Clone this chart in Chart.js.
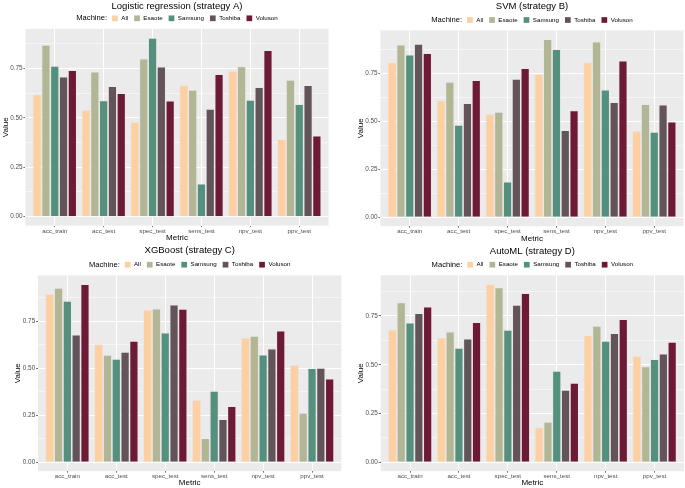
<!DOCTYPE html>
<html>
<head>
<meta charset="utf-8">
<script src="https://cdn.jsdelivr.net/npm/chart.js@4.4.1/dist/chart.umd.min.js"></script>
<style>
  html, body { margin: 0; padding: 0; background: #fff; }
  body { width: 685px; height: 488px; position: relative; overflow: hidden; }
  .panel { position: absolute; }
</style>
</head>
<body>
<div class="panel" style="left:0px;top:0px"><canvas id="chartA" width="342" height="244"></canvas></div>
<div class="panel" style="left:342px;top:0px"><canvas id="chartB" width="343" height="244"></canvas></div>
<div class="panel" style="left:0px;top:244px"><canvas id="chartC" width="342" height="244"></canvas></div>
<div class="panel" style="left:342px;top:244px"><canvas id="chartD" width="343" height="244"></canvas></div>
<script>
const metrics = ['acc_train', 'acc_test', 'spec_test', 'sens_test', 'npv_test', 'ppv_test'];
const machines = ['All', 'Esaote', 'Samsung', 'Toshiba', 'Voluson'];
const machineColors = ['#FCD0A1', '#B1B695', '#53917E', '#63535B', '#6D1A36'];
const legendTitle = 'Machine:';
const yMajor = [0, 0.25, 0.5, 0.75];

// values per machine, in the order of metrics
const logregAll     = [0.618, 0.539, 0.478, 0.664, 0.737, 0.391];
const logregEsaote  = [0.868, 0.733, 0.799, 0.640, 0.760, 0.691];
const logregSamsung = [0.762, 0.588, 0.904, 0.166, 0.590, 0.569];
const logregToshiba = [0.708, 0.659, 0.758, 0.544, 0.655, 0.664];
const logregVoluson = [0.740, 0.624, 0.586, 0.720, 0.841, 0.409];

const svmAll     = [0.806, 0.608, 0.538, 0.745, 0.807, 0.450];
const svmEsaote  = [0.899, 0.705, 0.549, 0.927, 0.915, 0.589];
const svmSamsung = [0.847, 0.481, 0.186, 0.875, 0.665, 0.444];
const svmToshiba = [0.903, 0.594, 0.720, 0.453, 0.599, 0.587];
const svmVoluson = [0.854, 0.714, 0.776, 0.557, 0.816, 0.498];

const xgbAll     = [0.895, 0.628, 0.810, 0.332, 0.663, 0.518];
const xgbEsaote  = [0.927, 0.571, 0.817, 0.128, 0.672, 0.262];
const xgbSamsung = [0.858, 0.550, 0.690, 0.379, 0.573, 0.500];
const xgbToshiba = [0.679, 0.587, 0.839, 0.229, 0.605, 0.502];
const xgbVoluson = [0.947, 0.645, 0.816, 0.298, 0.700, 0.445];

const automlAll     = [0.680, 0.639, 0.913, 0.178, 0.651, 0.545];
const automlEsaote  = [0.820, 0.670, 0.897, 0.207, 0.699, 0.492];
const automlSamsung = [0.716, 0.586, 0.679, 0.468, 0.622, 0.528];
const automlToshiba = [0.764, 0.634, 0.807, 0.371, 0.662, 0.557];
const automlVoluson = [0.798, 0.718, 0.867, 0.407, 0.733, 0.617];

// page layout of the four panels (canvas box, plot panel, text positions)
const panels = [
  { id: 'chartA', title: 'Logistic regression (strategy A)',
    series: [logregAll, logregEsaote, logregSamsung, logregToshiba, logregVoluson],
    box: {x: 0, y: 0, w: 342, h: 244}, area: {l: 25.4, t: 28.9, r: 328.6, b: 225.6},
    titleY: 6.0, legendY: 18.3, valueX: 6.2, metricY: 237.3 },
  { id: 'chartB', title: 'SVM (strategy B)',
    series: [svmAll, svmEsaote, svmSamsung, svmToshiba, svmVoluson],
    box: {x: 342, y: 0, w: 343, h: 244}, area: {l: 380.4, t: 30.4, r: 683.6, b: 226.2},
    titleY: 6.7, legendY: 20.0, valueX: 361, metricY: 238.7 },
  { id: 'chartC', title: 'XGBoost (strategy C)',
    series: [xgbAll, xgbEsaote, xgbSamsung, xgbToshiba, xgbVoluson],
    box: {x: 0, y: 244, w: 342, h: 244}, area: {l: 38.0, t: 275.4, r: 341.4, b: 471.2},
    titleY: 250.7, legendY: 264.7, valueX: 18, metricY: 483.3 },
  { id: 'chartD', title: 'AutoML (strategy D)',
    series: [automlAll, automlEsaote, automlSamsung, automlToshiba, automlVoluson],
    box: {x: 342, y: 244, w: 343, h: 244}, area: {l: 380.7, t: 275.3, r: 683.9, b: 471.2},
    titleY: 251.3, legendY: 264.7, valueX: 361, metricY: 483.3 }
];

const FONT = '"Liberation Sans", Arial, Helvetica, sans-serif';
Chart.defaults.font.family = FONT;
Chart.defaults.animation = false;

const isMajor = v => Math.abs(v * 4 - Math.round(v * 4)) < 1e-9;

// grey ggplot-like panel background
const panelBg = {
  id: 'panelBg',
  beforeDraw(chart) {
    const a = chart.chartArea;
    chart.ctx.save();
    chart.ctx.fillStyle = '#EBEBEB';
    chart.ctx.fillRect(a.left, a.top, a.right - a.left, a.bottom - a.top);
    chart.ctx.restore();
  }
};

// title + inline legend ("Machine:" followed by the keys)
const header = {
  id: 'header',
  afterDraw(chart, args, opts) {
    const ctx = chart.ctx;
    const a = chart.chartArea;
    const cx = (a.left + a.right) / 2;
    ctx.save();
    ctx.fillStyle = '#000';
    ctx.textBaseline = 'middle';
    ctx.textAlign = 'center';
    ctx.font = '9.5px ' + FONT;
    ctx.fillText(opts.text, cx, opts.titleY);

    const key = 5.7, keyGap = 3.5, itemGap = 6, titleGap = 5;
    const titleFont = '7.6px ' + FONT, labelFont = '6.2px ' + FONT;
    const items = chart.data.datasets;
    ctx.font = titleFont;
    const titleW = ctx.measureText(legendTitle).width;
    ctx.font = labelFont;
    let total = titleW + titleGap;
    items.forEach((ds, i) => {
      total += key + keyGap + ctx.measureText(ds.label).width + (i < items.length - 1 ? itemGap : 0);
    });
    let x = cx - total / 2;
    const y = opts.legendY;
    ctx.textAlign = 'left';
    ctx.font = titleFont;
    ctx.fillText(legendTitle, x, y);
    x += titleW + titleGap;
    ctx.font = labelFont;
    items.forEach(ds => {
      ctx.fillStyle = ds.backgroundColor;
      ctx.fillRect(x, y - key / 2, key, key);
      x += key + keyGap;
      ctx.fillStyle = '#000';
      ctx.fillText(ds.label, x, y);
      x += ctx.measureText(ds.label).width + itemGap;
    });
    ctx.restore();
  }
};

panels.forEach(p => {
  const top = Math.max(...p.series.flat());
  const yMin = -0.05 * top, yMax = 1.05 * top;
  const gridValues = [];
  for (let v = 0; v <= yMax + 1e-9; v += 0.125) gridValues.push(v);

  new Chart(document.getElementById(p.id), {
    type: 'bar',
    data: {
      datasets: machines.map((m, k) => ({
        label: m,
        data: p.series[k].map((v, i) => ({x: i + 1, y: v})),
        backgroundColor: machineColors[k],
        borderColor: 'rgba(235,225,228,0.85)',
        borderWidth: 0.8,
        categoryPercentage: 0.9,
        barPercentage: 1.0
      }))
    },
    options: {
      responsive: false,
      devicePixelRatio: 1,
      layout: {
        padding: {
          left: 0,
          top: p.area.t - p.box.y,
          right: p.box.x + p.box.w - p.area.r,
          bottom: 0
        }
      },
      plugins: {
        legend: { display: false },
        tooltip: { enabled: false },
        header: { text: p.title, titleY: p.titleY - p.box.y, legendY: p.legendY - p.box.y }
      },
      scales: {
        x: {
          type: 'linear',
          min: 0.4,
          max: metrics.length + 0.6,
          offset: false,
          afterBuildTicks: s => { s.ticks = metrics.map((m, i) => ({value: i + 1})); },
          afterFit: s => { s.height = p.box.y + p.box.h - p.area.b; },
          border: { display: false },
          grid: { offset: false, color: '#FFFFFF', lineWidth: 1, tickLength: 1.5, tickColor: '#333333', tickWidth: 0.7 },
          ticks: {
            callback: v => metrics[v - 1],
            autoSkip: false, maxRotation: 0, minRotation: 0,
            padding: 0,
            color: '#4D4D4D',
            font: { size: 6.2 }
          },
          title: {
            display: true, text: 'Metric', color: '#000',
            font: { size: 8 },
            padding: { top: 0, bottom: Math.max(0, p.box.y + p.box.h - p.metricY - 4.8) }
          }
        },
        y: {
          min: yMin,
          max: yMax,
          afterBuildTicks: s => { s.ticks = gridValues.map(v => ({value: v})); },
          afterFit: s => { s.width = p.area.l - p.box.x; },
          border: { display: false },
          grid: {
            color: '#FFFFFF',
            lineWidth: c => isMajor(c.tick.value) ? 1 : 0.5,
            tickLength: 2,
            tickColor: c => isMajor(c.tick.value) ? '#333333' : 'rgba(0,0,0,0)',
            tickWidth: 0.7
          },
          ticks: {
            callback: v => isMajor(v) ? v.toFixed(2) : '',
            autoSkip: false,
            padding: 0.8,
            color: '#4D4D4D',
            font: { size: 6.4 }
          },
          title: {
            display: true, text: 'Value', color: '#000',
            font: { size: 8 },
            padding: { top: Math.max(0, p.valueX - p.box.x - 4.8), bottom: 0 }
          }
        }
      }
    },
    plugins: [panelBg, header]
  });
});
</script>
</body>
</html>
